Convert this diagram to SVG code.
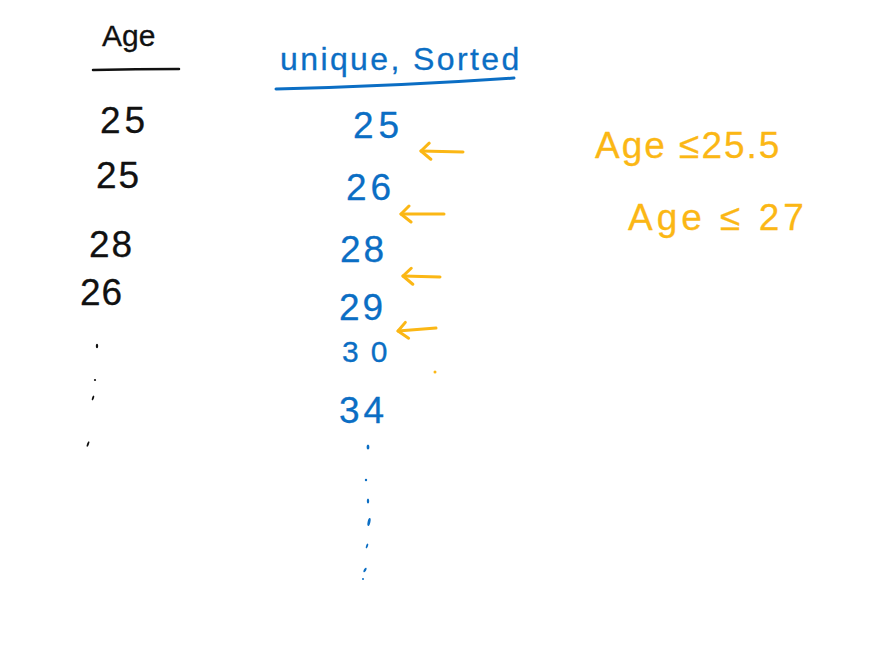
<svg xmlns="http://www.w3.org/2000/svg" width="883" height="653" viewBox="0 0 883 653">
<style>
.t{font-family:"Liberation Sans","DejaVu Sans",sans-serif;stroke-width:0.3;stroke-linejoin:round;}
.k{fill:#111;stroke:#111;}
.b{fill:#0b6ec4;stroke:#0b6ec4;}
.o{fill:#fbb715;stroke:#fbb715;}
.ln{fill:none;stroke-linecap:round;stroke-linejoin:round;}
.arr{fill:none;stroke:#fbb715;stroke-width:3;stroke-linecap:round;stroke-linejoin:round;}
</style>
<defs>
<marker id="head" viewBox="0 0 20 20" refX="17" refY="10" markerWidth="20" markerHeight="20" markerUnits="userSpaceOnUse" orient="auto">
<path d="M7,2 L17,10 L9,18" fill="none" stroke="#fbb715" stroke-width="3" stroke-linecap="round" stroke-linejoin="round"/>
</marker>
</defs>
<rect width="883" height="653" fill="#fff"/>
<g id="age-column">
<text class="t k" x="102" y="46" font-size="30">Age</text>
<path class="ln" d="M93,70 Q136,69 179,69" stroke="#111" stroke-width="2.5"/>
<text class="t k" x="100" y="133" font-size="37" letter-spacing="4">25</text>
<text class="t k" x="96" y="188" font-size="37" letter-spacing="2">25</text>
<text class="t k" x="89" y="257" font-size="37" letter-spacing="2">28</text>
<text class="t k" x="80" y="305" font-size="37" letter-spacing="1">26</text>
<g fill="#111">
<ellipse cx="97" cy="346" rx="1.2" ry="2.2"/>
<circle cx="95" cy="380" r="1.1"/>
<ellipse cx="93" cy="398" rx="1" ry="2.5" transform="rotate(20 93 398)"/>
<ellipse cx="88" cy="444" rx="1" ry="3" transform="rotate(20 88 444)"/>
</g>
</g>
<g id="unique-sorted-column">
<text class="t b" x="280" y="70" font-size="32" letter-spacing="2.4">unique, Sorted</text>
<path class="ln" d="M276,89 Q400,86 514,78" stroke="#0b6ec4" stroke-width="3"/>
<text class="t b" x="353" y="138" font-size="37" letter-spacing="5">25</text>
<text class="t b" x="346" y="200" font-size="37" letter-spacing="4">26</text>
<text class="t b" x="340" y="262" font-size="37" letter-spacing="3">28</text>
<text class="t b" x="339" y="320" font-size="37" letter-spacing="3">29</text>
<text class="t b" x="342" y="362" font-size="30" letter-spacing="12">30</text>
<text class="t b" x="339" y="423" font-size="37" letter-spacing="4">34</text>
<g fill="#0b6ec4">
<ellipse cx="368" cy="447" rx="1.4" ry="2.6"/>
<circle cx="366" cy="480" r="1.2"/>
<ellipse cx="368" cy="501" rx="1.2" ry="2.6"/>
<ellipse cx="369" cy="522" rx="1.4" ry="4" transform="rotate(12 369 522)"/>
<ellipse cx="367" cy="546" rx="1" ry="2.5" transform="rotate(20 367 546)"/>
<ellipse cx="365" cy="570" rx="1.2" ry="2.5" transform="rotate(30 365 570)"/>
<circle cx="363" cy="579" r="1"/>
</g>
</g>
<g id="connectors">
<path class="arr" d="M463,152 L421,151" marker-end="url(#head)"/>
<path class="arr" d="M444,214 L401,214" marker-end="url(#head)"/>
<path class="arr" d="M440,277 L403,276" marker-end="url(#head)"/>
<path class="arr" d="M436,328 L398,331" marker-end="url(#head)"/>
</g>
<g id="split-25-5">
<text class="t o" x="595" y="158" font-size="37" letter-spacing="2">Age ≤25.5</text>
</g>
<g id="split-27">
<text class="t o" x="628" y="230" font-size="37" letter-spacing="4">Age ≤ 27</text>
</g>
<circle cx="435" cy="372" r="1.5" fill="#fbb715"/>
</svg>
